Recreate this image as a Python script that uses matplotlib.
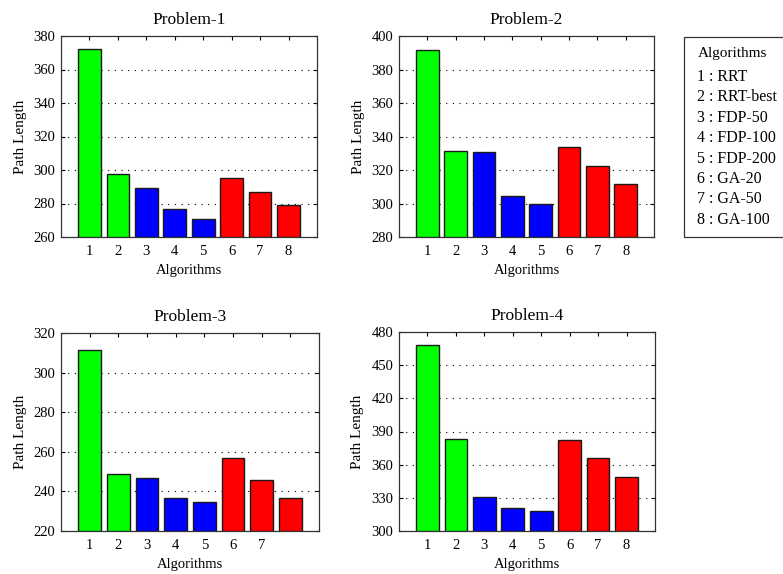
import matplotlib
matplotlib.use("Agg")
import matplotlib.pyplot as plt
from matplotlib.patches import Rectangle

plt.rcParams['font.family'] = ['Liberation Serif', 'DejaVu Serif']

algorithms = [1, 2, 3, 4, 5, 6, 7, 8]
bar_colors = ['#00ff00', '#00ff00', '#0000ff', '#0000ff', '#0000ff',
              '#ff0000', '#ff0000', '#ff0000']

p1_values = [372.2, 297.4, 289.0, 276.7, 270.7, 295.0, 287.1, 279.1]
p2_values = [391.6, 331.1, 330.5, 304.5, 299.9, 333.9, 322.6, 311.4]
p3_values = [311.5, 249.0, 246.8, 236.8, 234.6, 256.8, 245.7, 236.8]
p4_values = [467.8, 383.1, 330.8, 321.1, 318.1, 382.0, 366.1, 349.1]

p1_yticks = [260, 280, 300, 320, 340, 360, 380]
p2_yticks = [280, 300, 320, 340, 360, 380, 400]
p3_yticks = [220, 240, 260, 280, 300, 320]
p4_yticks = [300, 330, 360, 390, 420, 450, 480]

p1_xlabels = ['1', '2', '3', '4', '5', '6', '7', '8']
p2_xlabels = ['1', '2', '3', '4', '5', '6', '7', '8']
p3_xlabels = ['1', '2', '3', '4', '5', '6', '7', '']
p4_xlabels = ['1', '2', '3', '4', '5', '6', '7', '8']

titles = ['Problem-1', 'Problem-2', 'Problem-3', 'Problem-4']
legend_title = 'Algorithms'
legend_entries = ['1 : RRT', '2 : RRT-best', '3 : FDP-50', '4 : FDP-100',
                  '5 : FDP-200', '6 : GA-20', '7 : GA-50', '8 : GA-100']

W, H = 783, 574
fig = plt.figure(figsize=(W / 100, H / 100), dpi=100)

def px_axes(l, t, r, b):
    return fig.add_axes([l / W, (H - b) / H, (r - l) / W, (b - t) / H])

boxes = [(61, 36, 317, 237), (399, 36, 654, 237),
         (61, 333, 319, 531), (399, 332, 655, 531)]
datasets = [p1_values, p2_values, p3_values, p4_values]
yticksets = [p1_yticks, p2_yticks, p3_yticks, p4_yticks]
xlabelsets = [p1_xlabels, p2_xlabels, p3_xlabels, p4_xlabels]

for box, vals, yt, xl, title in zip(boxes, datasets, yticksets, xlabelsets, titles):
    ax = px_axes(*box)
    ax.bar(algorithms, [v - yt[0] for v in vals], bottom=yt[0], width=0.8,
           color=bar_colors, edgecolor='#1a1a1a', linewidth=1.0, zorder=3)
    ax.set_xlim(0, 9)
    ax.set_ylim(yt[0], yt[-1])
    ax.set_yticks(yt)
    ax.set_xticks(algorithms)
    ax.set_xticklabels(xl)
    for y in yt[1:-1]:
        ax.axhline(y, color='black', linestyle=(0, (1, 5)), linewidth=0.8, zorder=1)
    ax.tick_params(direction='in', top=True, right=True, length=3,
                   labelsize=10.5, width=0.8)
    ax.tick_params(axis='x', pad=6)
    ax.tick_params(axis='y', pad=4)
    for s in ax.spines.values():
        s.set_linewidth(0.9)
        s.set_color('#333333')
    ax.set_title(title, fontsize=12.5, pad=8.5)
    ax.set_xlabel('Algorithms', fontsize=10.5, labelpad=4)
    ax.set_ylabel('Path Length', fontsize=11, labelpad=5)

# legend box (text box extending beyond figure edge)
rect = Rectangle((684 / W, (H - 237) / H), 130 / W, 200 / H,
                 transform=fig.transFigure, fill=False, edgecolor='#333333',
                 linewidth=0.9, clip_on=False)
fig.patches.append(rect)
fig.text(698 / W, (H - 53) / H, legend_title, fontsize=11, va='center', ha='left')
for i, entry in enumerate(legend_entries):
    y = 77 + i * 20.4
    fig.text(697 / W, (H - y) / H, entry, fontsize=11.5, va='center', ha='left')

fig.savefig('out.png', dpi=100)
